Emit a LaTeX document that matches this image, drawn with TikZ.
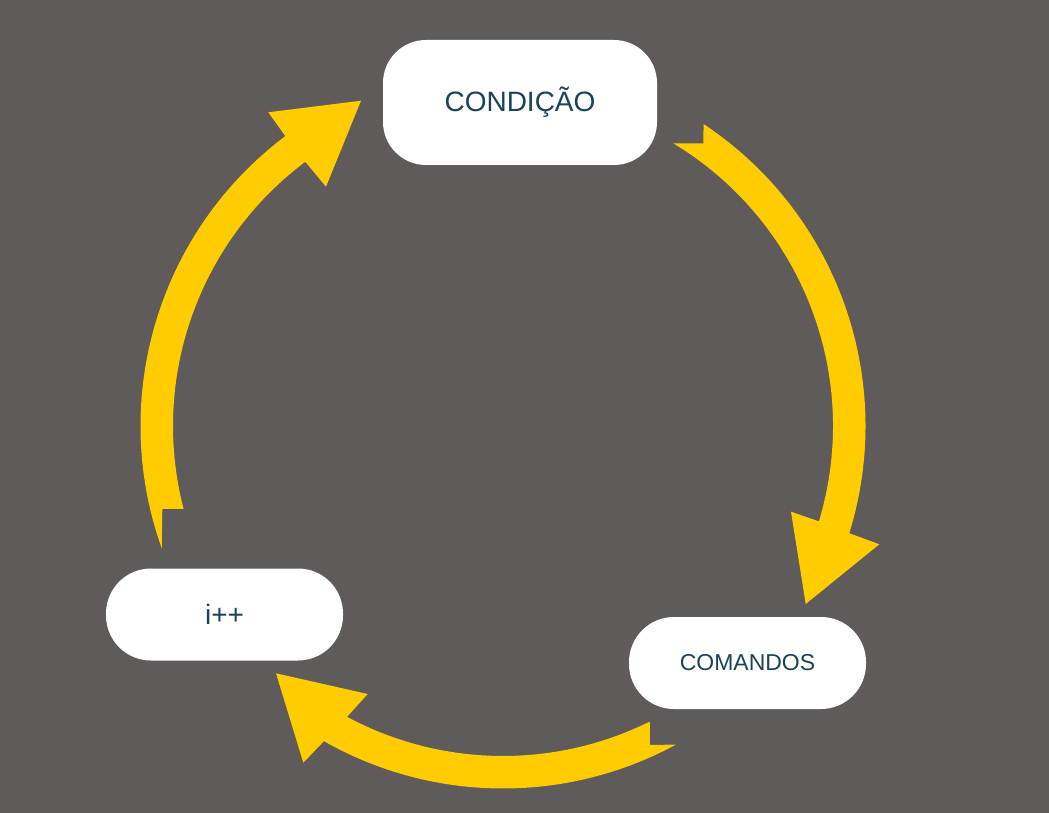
\documentclass[tikz,border=0pt]{standalone}
\usepackage{fontspec}
\setmainfont{Liberation Sans}
\usepackage{xcolor}
\definecolor{bggray}{HTML}{5F5B5A}
\definecolor{loopyellow}{HTML}{FFCC00}
\definecolor{labelteal}{HTML}{1B4357}
\tikzset{stage/.style={fill=white,text=labelteal,inner sep=0pt,
   minimum width=237pt,minimum height=92pt,rounded corners=45pt},
 bigstage/.style={stage,minimum width=274pt,minimum height=125pt,
   rounded corners=43pt,font=\fontsize{28}{30}\selectfont},
 loop arrow/.style={fill=loopyellow,draw=none},
 }

\begin{document}
\begin{tikzpicture}[x=1pt,y=-1pt]
        \fill[bggray] (0,0) rectangle (1049,813);
        \node[bigstage] (cond) at (520,102.5) {CONDIÇÃO};
        \node[stage,font=\fontsize{23}{25}\selectfont] (cmds) at (747.5,663) {COMANDOS};
        \node[stage,font=\fontsize{28}{30}\selectfont] (incr) at (224.5,614.5) {i++};
        % arrows around the centre of the cycle
        \begin{scope}[shift={(503,426)},y=1pt]
        \fill[loop arrow] (56.4:362.5) arc[start angle=56.4,end angle=-17.2,radius=362.5]
            -- (376.3,-118.3) -- (302.7,-178) -- (288,-85.7)
            -- (-16.8:330) arc[start angle=-16.8,end angle=58.9,radius=330]
            -- (200.3,282.7) -- cycle;
        \fill[loop arrow] (-61.5:362.5) arc[start angle=-61.5,end angle=-119.6,radius=362.5]
            -- (-199.7,-336.7) -- (-227,-247.3) -- (-135.3,-268)
            -- (-118.2:330) arc[start angle=-118.2,end angle=-63.6,radius=330]
            -- (147,-319) -- cycle;
        \fill[loop arrow] (199.7:362.5) arc[start angle=199.7,end angle=126.9,radius=362.5]
            -- (-234.7,313.7) -- (-142,325.3) -- (-177,239.3)
            -- (126.8:330) arc[start angle=126.8,end angle=194.55,radius=330]
            -- (-340.7,-83) -- cycle;
        \end{scope}
    \end{tikzpicture}
\end{document}
